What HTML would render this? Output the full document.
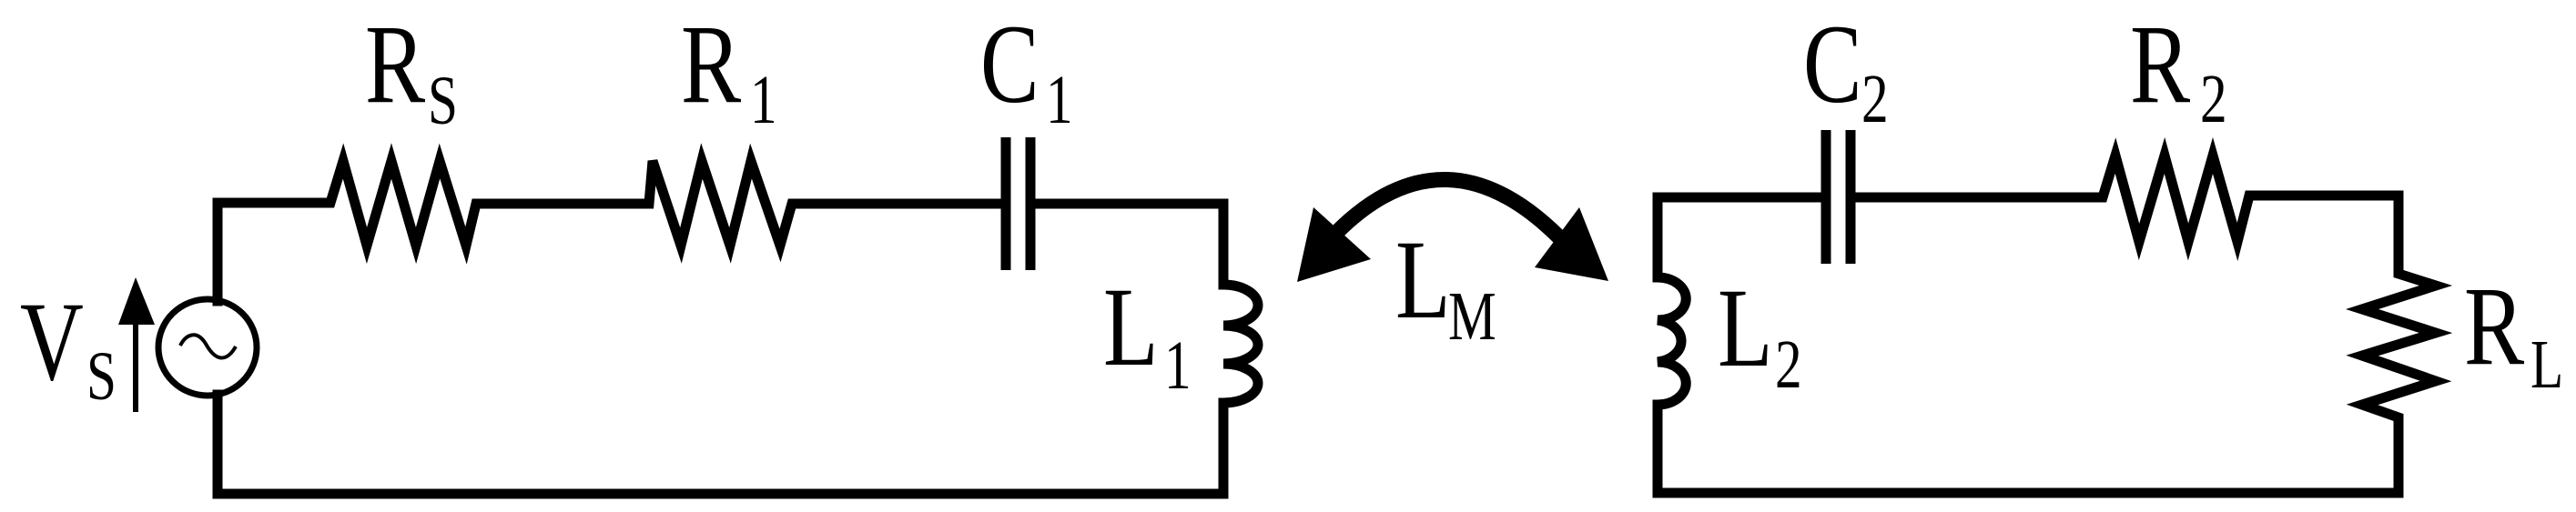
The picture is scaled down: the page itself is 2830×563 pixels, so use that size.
<!DOCTYPE html>
<html><head><meta charset="utf-8"><style>html,body{margin:0;padding:0;background:#fff;}svg{display:block}
text{font-family:"Liberation Serif","Times New Roman",Times,"DejaVu Serif Condensed","DejaVu Serif",serif;}</style></head>
<body>
<svg width="2830" height="563" viewBox="0 0 2830 563" xmlns="http://www.w3.org/2000/svg">
<g fill="none" stroke="#000" stroke-width="11" stroke-linejoin="miter" stroke-linecap="square">
<path d="M239,331 V223 H363 L377,177 L403,270 L430,177 L457,270 L483,177 L512,270 L523,224 H713 L717,177 L748,270 L771,177 L802,270 L825,177 L857,270 L870,224 H1105"/>
<path d="M1132,224 H1344 V313 A38,22.5 0 0 1 1344,358 A38,21 0 0 1 1344,400 A38,21.5 0 0 1 1344,443 V543 H239 V434"/>
<line x1="1105" y1="151" x2="1105" y2="297" stroke-linecap="butt"/>
<line x1="1132" y1="151" x2="1132" y2="297" stroke-linecap="butt"/>
<ellipse cx="228" cy="382" rx="54" ry="53" stroke-width="7"/>
<path d="M198,380 C204,368 216,362 226,378 C236,396 248,400 259,381" stroke-width="4" stroke-linecap="butt"/>
<line x1="149" y1="453" x2="149" y2="350" stroke-width="6" stroke-linecap="butt"/>
<path d="M1821,305 V217 H2006"/>
<path d="M2033,217 H2310 L2324,171 L2350,266 L2378,171 L2404,266 L2431,171 L2458,266 L2471,215 H2635 V301 L2676,314 L2595,340 L2676,366 L2595,391 L2676,419 L2595,445 L2635,459 V542 H1821 V445"/>
<path d="M1821,305 A31,23.3 0 0 1 1821,352 A31,23.3 0 0 1 1821,398 A31,23.3 0 0 1 1821,445"/>
<line x1="2006" y1="143" x2="2006" y2="290" stroke-linecap="butt"/>
<line x1="2033" y1="143" x2="2033" y2="290" stroke-linecap="butt"/>
<path d="M1468,256 Q1588,136 1714,262" stroke-width="17" stroke-linecap="butt"/>
</g>
<g fill="#000">
<polygon points="130,357 170,357 149,305"/>
<polygon points="1443,228 1425,310 1506,285"/>
<polygon points="1735,228 1767,309 1686,294"/>
</g>
<g fill="#000">
<text transform="translate(22,417) scale(0.78,1)" font-size="124">V</text>
<text transform="translate(95,439) scale(0.78,1)" font-size="76">S</text>
<text transform="translate(401,112) scale(0.8,1)" font-size="124">R</text>
<text transform="translate(470,136) scale(0.78,1)" font-size="76">S</text>
<text transform="translate(748,112) scale(0.8,1)" font-size="124">R</text>
<text transform="translate(824,135) scale(0.78,1)" font-size="76">1</text>
<text transform="translate(1077,112) scale(0.78,1)" font-size="124">C</text>
<text transform="translate(1149,135) scale(0.78,1)" font-size="76">1</text>
<text transform="translate(1212,401) scale(0.8,1)" font-size="124">L</text>
<text transform="translate(1279,427) scale(0.78,1)" font-size="76">1</text>
<text transform="translate(1533,349) scale(0.8,1)" font-size="124">L</text>
<text transform="translate(1591,373) scale(0.78,1)" font-size="76">M</text>
<text transform="translate(1887,402) scale(0.8,1)" font-size="124">L</text>
<text transform="translate(1950,426) scale(0.78,1)" font-size="76">2</text>
<text transform="translate(1981,112) scale(0.78,1)" font-size="124">C</text>
<text transform="translate(2045,134) scale(0.78,1)" font-size="76">2</text>
<text transform="translate(2340,112) scale(0.8,1)" font-size="124">R</text>
<text transform="translate(2417,134) scale(0.78,1)" font-size="76">2</text>
<text transform="translate(2707,400) scale(0.8,1)" font-size="124">R</text>
<text transform="translate(2780,426) scale(0.78,1)" font-size="76">L</text>
</g>
</svg>
</body></html>
